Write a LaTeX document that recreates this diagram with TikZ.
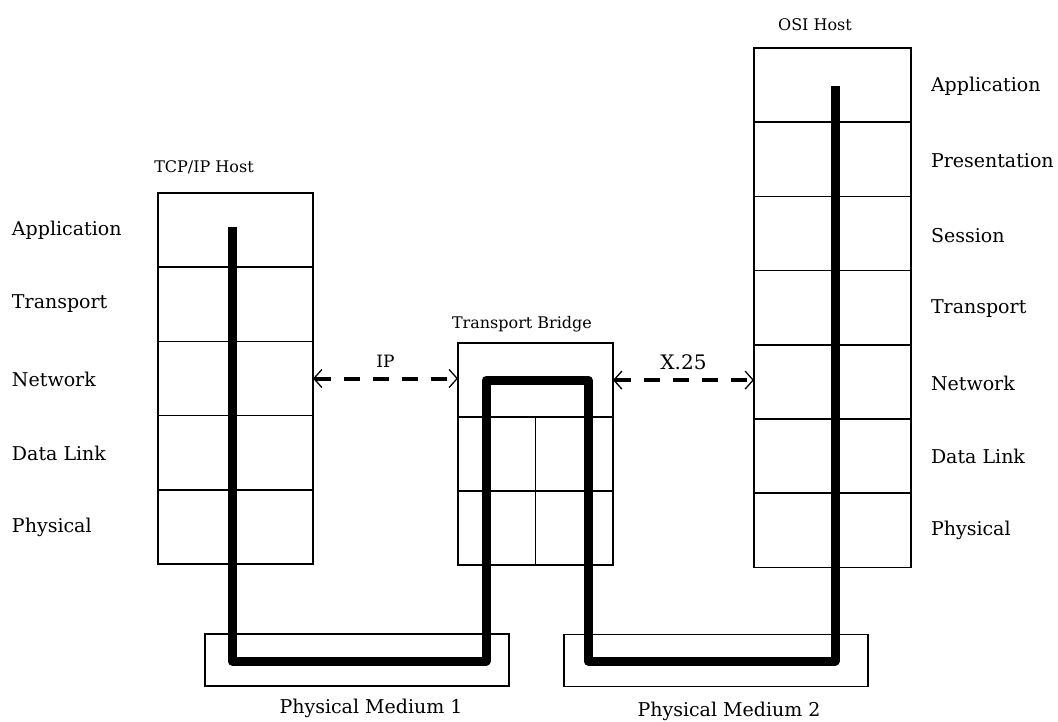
\documentclass[tikz,border=0pt]{standalone}
\usepackage{fontspec}
\setmainfont{DejaVu Serif}
\usetikzlibrary{arrows.meta}
\begin{document}
\begin{tikzpicture}[x=1pt,y=-1pt,
  every node/.style={inner sep=0pt,outer sep=0pt},
  cell/.style={draw,line width=1.6pt,anchor=north west,minimum height=74.2pt},
  tcpcell/.style={cell,minimum width=155pt},
  osicell/.style={cell,minimum width=157pt},
  halfcell/.style={cell,minimum width=77.5pt,minimum height=74pt},
  medium/.style={draw,line width=1.6pt,anchor=north west,minimum height=52pt,minimum width=304pt},
  lbl/.style={font=\fontsize{19}{22}\selectfont,anchor=west},
  ttl/.style={font=\fontsize{16}{19}\selectfont},
  mlbl/.style={font=\fontsize{19}{22}\selectfont},
  route/.style={line width=9pt,line join=round,line cap=butt},
  dasharrow/.style={line width=4pt,dash pattern=on 16pt off 13pt,
    {Straight Barb[length=8pt,width=18pt,line width=1.3pt]}-{Straight Barb[length=8pt,width=18pt,line width=1.3pt]}}
]
\useasboundingbox (0,0) rectangle (1058,721);

% TCP/IP host
\node[tcpcell] (t1) at (158,193) {};
\node[tcpcell] (t2) at (158,267.2) {};
\node[tcpcell] (t3) at (158,341.4) {};
\node[tcpcell] (t4) at (158,415.6) {};
\node[tcpcell] (t5) at (158,489.8) {};
\node[ttl] (ttcp) at (204,167) {TCP/IP Host};
\node[lbl] (la1) at (12,230) {Application};
\node[lbl] (la2) at (12,304) {Transport};
\node[lbl] (la3) at (12,379) {Network};
\node[lbl] (la4) at (12,453) {Data Link};
\node[lbl] (la5) at (12,527) {Physical};

% Transport bridge
\node[tcpcell] (b0) at (458,343) {};
\node[halfcell] (b1) at (458,417) {};
\node[halfcell] (b2) at (535.5,417) {};
\node[halfcell] (b3) at (458,491) {};
\node[halfcell] (b4) at (535.5,491) {};
\node[ttl] (tbr) at (522,324) {Transport Bridge};

% OSI host
\node[osicell] (o1) at (754,48) {};
\node[osicell] (o2) at (754,122.2) {};
\node[osicell] (o3) at (754,196.4) {};
\node[osicell] (o4) at (754,270.6) {};
\node[osicell] (o5) at (754,344.8) {};
\node[osicell] (o6) at (754,419) {};
\node[osicell] (o7) at (754,493.2) {};
\node[ttl] (tosi) at (815,25) {OSI Host};
\node[lbl] (ra1) at (931,86) {Application};
\node[lbl] (ra2) at (931,161) {Presentation};
\node[lbl] (ra3) at (931,236) {Session};
\node[lbl] (ra4) at (931,309) {Transport};
\node[lbl] (ra5) at (931,383) {Network};
\node[lbl] (ra6) at (931,456) {Data Link};
\node[lbl] (ra7) at (931,530) {Physical};

% physical media
\node[medium] (m1) at (205,634) {};
\node[medium] (m2) at (564,634.5) {};
\node[mlbl] (lm1) at (371,708) {Physical Medium 1};
\node[mlbl] (lm2) at (729,711) {Physical Medium 2};

% route of data
\coordinate (r0) at (232,227);
\coordinate (r1) at (232,661);
\coordinate (r2) at (486,661);
\coordinate (r3) at (486,380);
\coordinate (r4) at (588,380);
\coordinate (r5) at (588,661);
\coordinate (r6) at (835,661);
\coordinate (r7) at (835,86);
\draw[route] (r0) -- (r1) -- (r2) -- (r3) -- (r4) -- (r5) -- (r6) -- (r7);

% protocol arrows
\draw[dasharrow] (t3.east) -- (t3.east -| b0.west) node[midway,above=11pt,font=\fontsize{17}{20}\selectfont] (lip) {IP};
\draw[dasharrow] (b0.east) -- (b0.east -| o5.west) node[midway,above=10pt,font=\fontsize{20}{23}\selectfont] (lx) {X.25};
\end{tikzpicture}
\end{document}
